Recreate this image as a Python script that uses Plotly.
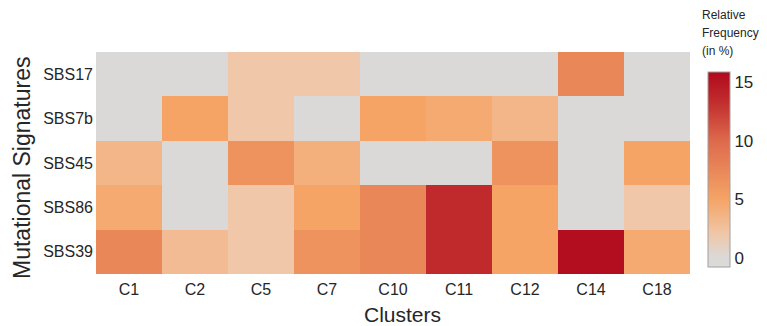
import plotly.graph_objects as go

clusters = ["C1", "C2", "C5", "C7", "C10", "C11", "C12", "C14", "C18"]
signatures = ["SBS17", "SBS7b", "SBS45", "SBS86", "SBS39"]

sbs17 = [0, 0, 2, 2, 0, 0, 0, 7.5, 0]
sbs7b = [0, 5, 2, 0, 5, 4.5, 3.5, 0, 0]
sbs45 = [3.5, 0, 6.5, 4, 0, 0, 6.5, 0, 5]
sbs86 = [4.5, 0, 2, 5, 7.5, 13.5, 5, 0, 2]
sbs39 = [7.5, 3, 2, 6.5, 7.5, 13.5, 5, 15.5, 4.5]

colorbar_ticks = [0, 5, 10, 15]

zmin, zmax = -0.8, 15.9
stops = [(-0.8, "#dcdbda"), (0, "#dad9d8"), (2, "#f0c7a9"), (5, "#f5a466"),
         (10, "#dd6a4c"), (13.5, "#c02a2c"), (15.9, "#b0091d")]
colorscale = [[(v - zmin) / (zmax - zmin), c] for v, c in stops]

font = "Liberation Sans, Arial, sans-serif"
fig = go.Figure(go.Heatmap(
    z=[sbs17, sbs7b, sbs45, sbs86, sbs39],
    x=clusters, y=signatures,
    zmin=zmin, zmax=zmax, colorscale=colorscale,
    colorbar=dict(
        x=1.03, xanchor="left", xpad=0, ypad=0,
        y=0.471, yanchor="middle",
        thickness=22, len=195, lenmode="pixels",
        outlinewidth=1, outlinecolor="#a0a0a0",
        tickvals=colorbar_ticks, ticks="",
        tickfont=dict(size=17, color="#262626", family=font),
    ),
))

W, H = 767, 326
l, r, t, b = 96, 77, 52, 52
pw, ph = W - l - r, H - t - b

def ann(text, x, y, size, xanchor="center", angle=0):
    return dict(text=text, x=(x - l) / pw, y=(H - b - y) / ph, xref="paper", yref="paper",
                xanchor=xanchor, yanchor="middle", textangle=angle, showarrow=False,
                font=dict(size=size, color="#262626"))

fig.update_layout(
    width=W, height=H,
    margin=dict(l=l, r=r, t=t, b=b),
    paper_bgcolor="white", plot_bgcolor="white",
    font=dict(family=font, color="#262626"),
    xaxis=dict(showgrid=False, zeroline=False, ticks="", tickfont=dict(size=16), ticklabelstandoff=4),
    yaxis=dict(showgrid=False, zeroline=False, ticks="", autorange="reversed", tickfont=dict(size=16), ticklabelstandoff=2),
    annotations=[
        ann("Mutational Signatures", 22, 168, 23, angle=-90),
        ann("Clusters", 402, 314, 21),
        ann("Relative", 700, 15, 12, xanchor="left"),
        ann("Frequency", 700, 33, 12, xanchor="left"),
        ann("(in %)", 700, 51, 12, xanchor="left"),
    ],
)

fig.write_html("out.html", config={"displayModeBar": False},
               post_script="document.body.style.margin='0';document.body.style.padding='0';")
